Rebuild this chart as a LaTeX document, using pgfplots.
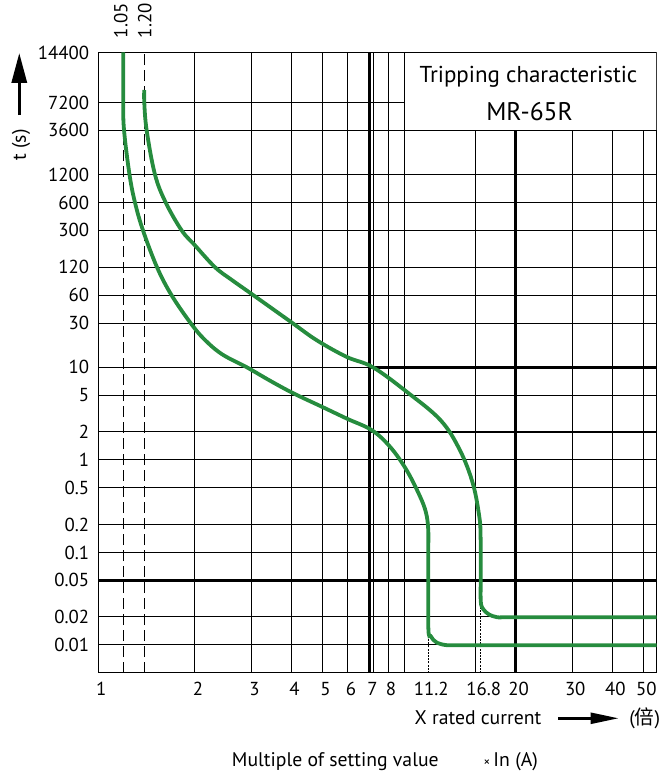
\documentclass[border=0pt]{standalone}
\usepackage{fontspec}
\setmainfont{PT Sans}
\newfontfamily\cjk{Noto Sans CJK SC}
\usepackage{pgfplots}
\pgfplotsset{compat=1.18}
\usetikzlibrary{arrows.meta}
\definecolor{curvegreen}{RGB}{38,140,62}

\begin{document}
\fontsize{19.7}{24}\selectfont
\begin{tikzpicture}
\begin{axis}[
  scale only axis, width=558.4pt, height=620.2pt,
  xmode=log, xmin=1, xmax=55,
  % time axis: log scale, stretched above 7200 s as on the original sheet
  y coord trafo/.code={\pgfmathsetmacro\ytr{ln(#1)*0.4342945}%
    \pgfmathparse{ifthenelse(\ytr>3.857332,3.857332+1.792*(\ytr-3.857332),\ytr)}},
  ymin=0.005, ymax=14400,
  clip mode=individual,
  axis line style={black, line width=1.3pt},
  major tick length=0pt, minor tick length=0pt,
  grid style={black, line width=1pt},
  xmajorgrids, ymajorgrids,
  xtick={2,3,4,5,6,7.21,8,9,15,30,40,50},
  xticklabels={},
  extra x ticks={1,2,3,4,5,6,7,8,10.68,15.56,20,30,40,50},
  extra x tick labels={1,2,3,4,5,6,7,8,11.2,16.8,20,30,40,50},
  extra x tick style={grid=none},
  ytick={0.01,0.02,0.05,0.1,0.2,0.5,1,2,5,10,30,60,120,300,600,1200,3600,7200,14400},
  yticklabels={0.01,0.02,0.05,0.1,0.2,0.5,1,2,5,10,30,60,120,300,600,1200,3600,7200,14400},
  tick label style={font=\fontsize{18.8}{22}\selectfont},
  xticklabel style={anchor=north, inner sep=0pt, yshift=-9pt, xshift=3pt},
  yticklabel style={anchor=east, inner sep=0pt, xshift=-9pt},
  every node/.append style={inner sep=0pt},
]
% heavy grid lines
\addplot[black, line width=2.6pt] coordinates {(7,0.005) (7,14400)};
\addplot[black, line width=2.8pt] coordinates {(20,0.005) (20,3600)};
\addplot[black, line width=2.6pt] coordinates {(1,0.05) (55,0.05)};
\addplot[black, line width=2.6pt] coordinates {(7,10) (55,10)};
\addplot[black, line width=2.6pt] coordinates {(7,2) (55,2)};
% 1.05 and 1.20 markers
\addplot[black, line width=1pt, dash pattern=on 11pt off 5pt] coordinates {(1.196,0.005) (1.196,14400)};
\addplot[black, line width=1pt, dash pattern=on 11pt off 5pt] coordinates {(1.391,0.005) (1.391,14400)};
\addplot[black, line width=0.6pt, dash pattern=on 2pt off 1.2pt] coordinates {(10.68,0.005) (10.68,0.2)};
\addplot[black, line width=0.6pt, dash pattern=on 2pt off 1.2pt] coordinates {(15.56,0.005) (15.56,0.2)};
% lower curve (1.05)
\addplot[curvegreen, line width=3.8pt, smooth, tension=0.6] coordinates {
(1.196,14400) (1.196,7200) (1.203,3600) (1.251,1200) (1.301,600) (1.378,300)
(1.524,120) (1.691,60) (1.939,30) (2.14,20) (2.43,13.8) (2.90,10) (3.43,7.15)
(4.05,5.24) (5.01,3.7) (5.96,2.78) (7.12,2.09) (8.12,1.38) (9.14,0.774) (10.07,0.40)
(10.5,0.27) (10.67,0.18) (10.68,0.1) (10.68,0.0157) (10.85,0.0126) (11.07,0.0114)
(11.37,0.0106) (12.16,0.01) (13.5,0.01) (20,0.01) (55,0.01)
};
% upper curve (1.20)
\addplot[curvegreen, line width=3.8pt, smooth, tension=0.6] coordinates {
(1.391,8560) (1.391,7200) (1.415,3600) (1.502,1200) (1.622,600) (1.819,300)
(2.0,207) (2.311,120) (2.6,88) (3.0,62) (4.0,30.5) (4.8,19.5) (5.95,12.9) (7.17,10.0)
(9.15,5.42) (11.66,2.68) (13.4,1.27) (14.7,0.556) (15.4,0.243) (15.54,0.15)
(15.56,0.06) (15.56,0.0297) (15.82,0.0246) (16.12,0.0228) (16.52,0.0214) (17.5,0.02)
(19,0.02) (30,0.02) (55,0.02)
};
% title box
\addplot[draw=black, fill=white, line width=1.1pt] coordinates {(9,3600) (55,3600) (55,14400) (9,14400)} -- cycle;
\node[anchor=base, font=\fontsize{23}{27}\selectfont] at (rel axis cs:0.7704,0.9513) {Tripping characteristic};
\node[anchor=base, font=\fontsize{25.5}{30}\selectfont] at (rel axis cs:0.7722,0.891) {MR-65R};
% labels round the axis
\node[rotate=90, anchor=west, font=\fontsize{18.8}{22}\selectfont] at (rel axis cs:0.0403,1.0121) {1.05};
\node[rotate=90, anchor=west, font=\fontsize{18.8}{22}\selectfont] at (rel axis cs:0.0831,1.0121) {1.20};
\node[rotate=90] at (rel axis cs:-0.1384,0.8509) {t (s)};
\draw[line width=3.3pt, -{Triangle[length=30pt,width=15pt]}] (rel axis cs:-0.1415,0.8992) -- (rel axis cs:-0.1415,0.9992);
\node[anchor=base east] at (rel axis cs:0.8053,-0.0843) {X rated current};
\draw[line width=2.5pt, -{Triangle[length=28pt,width=11pt]}] (rel axis cs:0.8233,-0.0735) -- (rel axis cs:0.9317,-0.0735);
\node[anchor=base west] at (rel axis cs:0.939,-0.0843) {({\cjk 倍})};
\node[anchor=base west] at (rel axis cs:0.2273,-0.1516) {Multiple of setting value};
\node[anchor=base west, font=\fontsize{13}{15}\selectfont] at (rel axis cs:0.6777,-0.1516) {×};
\node[anchor=base west] at (rel axis cs:0.6956,-0.1516) {In (A)};
\coordinate (bl) at (rel axis cs:0,0);
\coordinate (tr) at (rel axis cs:1,1);
\end{axis}
\pgfresetboundingbox
\path ([xshift=-98.3pt,yshift=-99.3pt]bl) rectangle ([xshift=5.3pt,yshift=52.5pt]tr);
\end{tikzpicture}%
\end{document}
